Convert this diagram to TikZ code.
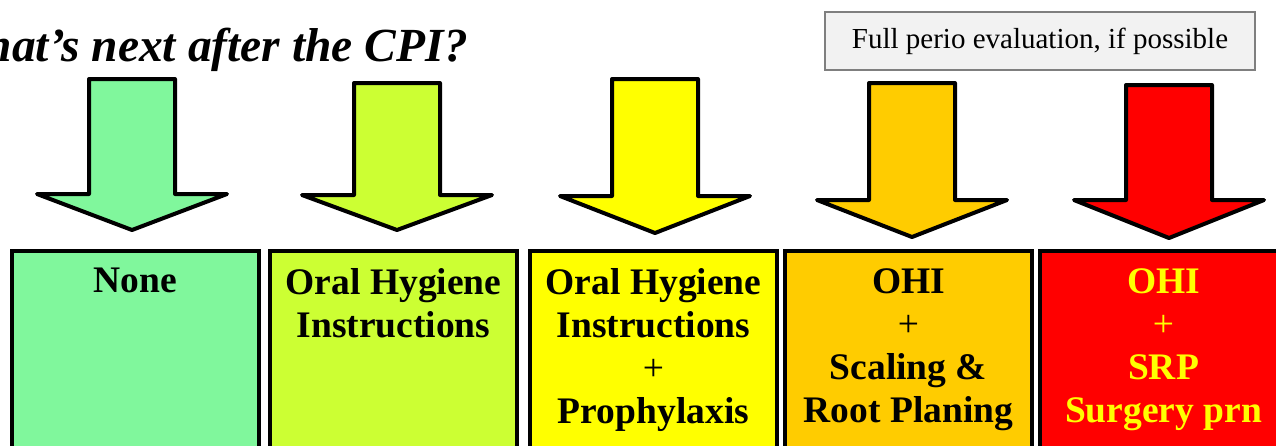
\documentclass[tikz,border=0pt]{standalone}
\usepackage{fontspec}
\setmainfont{Liberation Serif}
\usetikzlibrary{positioning}
\definecolor{cpigreen}{RGB}{128,247,156}
\definecolor{cpilime}{RGB}{204,255,51}
\definecolor{cpiyellow}{RGB}{255,255,0}
\definecolor{cpiorange}{RGB}{255,204,0}
\definecolor{cpigrey}{RGB}{242,242,242}
\definecolor{cpiedge}{RGB}{127,127,127}

\begin{document}
\begin{tikzpicture}[x=1pt,y=-1pt,
    codebox/.style={draw,line width=4pt,minimum width=247pt,minimum height=226pt,inner sep=0pt,anchor=north west},
    codetext/.style={font=\bfseries\fontsize{37.5}{43}\selectfont,align=center,inner sep=0pt},
    downarrow/.style={draw,line width=4pt,line join=round}]
    \useasboundingbox (0,0) rectangle (1276,445);
    \node[font=\bfseries\itshape\fontsize{47.5}{52}\selectfont,anchor=base east,inner sep=0pt] (title) at (468,61) {What’s next after the CPI?};
    \node[draw=cpiedge,fill=cpigrey,line width=1.5pt,minimum width=430pt,minimum height=58pt,font=\fontsize{29}{33}\selectfont] (perio) at (1040,41) {Full perio evaluation, if possible};
    % treatment boxes
    \node[codebox,fill=cpigreen] (none) at (10,249) {};
    \node[codebox,fill=cpilime] (ohi) at (268,249) {};
    \node[codebox,fill=cpiyellow] (prophy) at (528,249) {};
    \node[codebox,fill=cpiorange] (srp) at (783,249) {};
    \node[codebox,fill=red] (surgery) at (1038,249) {};
    \node[codetext,below=19pt of none.north] (noneText) {None};
    \node[codetext,below=19pt of ohi.north] (ohiText) {Oral Hygiene\\Instructions};
    \node[codetext,below=19pt of prophy.north] (prophyText) {Oral Hygiene\\Instructions\\{\mdseries +}\\Prophylaxis};
    \node[codetext,below=19pt of srp.north] (srpText) {OHI\\{\mdseries +}\\Scaling \&\\Root Planing};
    \node[codetext,text=cpiyellow,below=19pt of surgery.north] (surgeryText) {OHI\\{\mdseries +}\\SRP\\Surgery prn};
    % block arrows
    \foreach \mx/\my/\hy/\py/\fc in {132/79/194/230/cpigreen,397/83/195/230/cpilime,655/79/196/233/cpiyellow,912/83/200/237/cpiorange,1169/85/200/238/red}
        \draw[downarrow,fill=\fc] ({\mx-43},\my) -- ({\mx+43},\my) -- ({\mx+43},\hy) -- ({\mx+95},\hy) -- (\mx,\py) -- ({\mx-95},\hy) -- ({\mx-43},\hy) -- cycle;
\end{tikzpicture}
\end{document}
